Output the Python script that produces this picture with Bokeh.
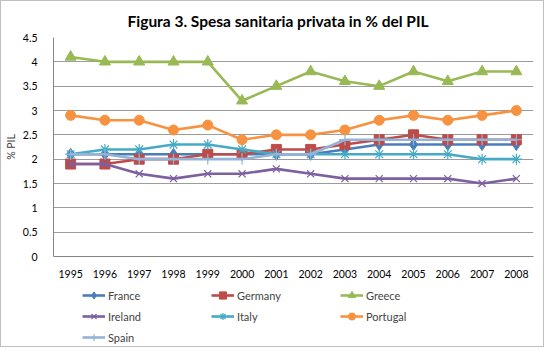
from bokeh.plotting import figure
from bokeh.layouts import column
from bokeh.models import FactorRange, Range1d, Legend, LegendItem, Title, NumeralTickFormatter, FixedTicker
from bokeh.embed import file_html
from bokeh.resources import INLINE

years = ["1995", "1996", "1997", "1998", "1999", "2000", "2001",
         "2002", "2003", "2004", "2005", "2006", "2007", "2008"]
france   = [2.1, 2.1, 2.1, 2.1, 2.1, 2.1, 2.1, 2.1, 2.2, 2.3, 2.3, 2.3, 2.3, 2.3]
germany  = [1.9, 1.9, 2.0, 2.0, 2.1, 2.1, 2.2, 2.2, 2.3, 2.4, 2.5, 2.4, 2.4, 2.4]
greece   = [4.1, 4.0, 4.0, 4.0, 4.0, 3.2, 3.5, 3.8, 3.6, 3.5, 3.8, 3.6, 3.8, 3.8]
ireland  = [1.9, 1.9, 1.7, 1.6, 1.7, 1.7, 1.8, 1.7, 1.6, 1.6, 1.6, 1.6, 1.5, 1.6]
italy    = [2.1, 2.2, 2.2, 2.3, 2.3, 2.2, 2.1, 2.1, 2.1, 2.1, 2.1, 2.1, 2.0, 2.0]
portugal = [2.9, 2.8, 2.8, 2.6, 2.7, 2.4, 2.5, 2.5, 2.6, 2.8, 2.9, 2.8, 2.9, 3.0]
spain    = [2.1, 2.1, 2.0, 2.0, 2.0, 2.0, 2.1, 2.1, 2.4, 2.4, 2.4, 2.4, 2.4, 2.4]
y_ticks = [0, 0.5, 1, 1.5, 2, 2.5, 3, 3.5, 4, 4.5]

series = [
    ("France", france, "#4A7EBB", "diamond", 12, True),
    ("Germany", germany, "#BE4B48", "square", 10, True),
    ("Greece", greece, "#98B954", "triangle", 11, True),
    ("Ireland", ireland, "#7D60A0", "x", 10, False),
    ("Italy", italy, "#46AAC5", "asterisk", 11, False),
    ("Portugal", portugal, "#F69240", "circle", 10, True),
    ("Spain", spain, "#95B3D7", "cross", 11, False),
]

FONT = "Lato"

# ---- main chart ----
p = figure(x_range=FactorRange(*years), y_range=Range1d(0, 4.5),
           width=542, height=281, output_backend="svg", toolbar_location=None,
           min_border_left=49, min_border_right=10, min_border_top=36,
           min_border_bottom=26, title=None)
p.outline_line_color = None
p.background_fill_color = "white"
p.border_fill_color = "white"

# ---- legend strip (same series, drawn out of view; only the legend shows) ----
q = figure(x_range=p.x_range, y_range=Range1d(10, 11), width=542, height=64,
           output_backend="svg", toolbar_location=None,
           x_axis_location=None, y_axis_location=None,
           min_border_left=49, min_border_right=10, min_border_top=0, min_border_bottom=0)
q.outline_line_color = None
q.xgrid.grid_line_color = None
q.ygrid.grid_line_color = None
q.background_fill_color = "white"
q.border_fill_color = "white"

items = []
for name, vals, color, marker, size, filled in series:
    fill = color if filled else None
    lw = 1 if filled else 1.2
    p.line(years, vals, line_color=color, line_width=2.6)
    p.scatter(years, vals, marker=marker, size=size, fill_color=fill,
              line_color=color, line_width=lw)
    l1 = q.line(years, vals, line_color=color, line_width=2.6)
    l2 = q.scatter(years, vals, marker=marker, size=size, fill_color=fill,
                   line_color=color, line_width=lw)
    items.append(LegendItem(label=name, renderers=[l1, l2]))

# axes
p.yaxis.ticker = FixedTicker(ticks=y_ticks)
p.yaxis.formatter = NumeralTickFormatter(format="0.[0]")
p.ygrid.ticker = FixedTicker(ticks=y_ticks)
p.ygrid.grid_line_color = "#9c9c9c"
p.xgrid.grid_line_color = None
for ax in (p.xaxis, p.yaxis):
    ax.axis_line_color = "#868686"
    ax.major_tick_line_color = None
    ax.minor_tick_line_color = None
    ax.major_label_text_font = FONT
    ax.major_label_text_font_size = "10.5px"
    ax.major_label_text_color = "#000000"
p.yaxis.major_label_standoff = 10
p.xaxis.major_label_standoff = 7
p.yaxis.axis_label = "% PIL"
p.yaxis.axis_label_text_font = FONT
p.yaxis.axis_label_text_font_style = "normal"
p.yaxis.axis_label_text_font_size = "10.5px"
p.yaxis.axis_label_standoff = 3

title = Title(text="Figura 3. Spesa sanitaria privata in % del PIL",
              align="left", offset=74, standoff=15,
              text_font=FONT, text_font_style="bold", text_font_size="15.5px",
              text_color="#000000")
p.add_layout(title, "above")

legend = Legend(items=items, location=(29, 0), orientation="horizontal", ncols=3,
                glyph_width=23, glyph_height=18, label_width=100, label_height=18,
                spacing=3, padding=0, margin=0, label_standoff=3,
                border_line_color=None, background_fill_alpha=0,
                label_text_font=FONT, label_text_font_size="11px")
q.add_layout(legend)

layout = column(p, q, spacing=0, styles={"border": "1px solid #bfbfbf"})

open("out.html", "w").write(file_html(layout, INLINE))
